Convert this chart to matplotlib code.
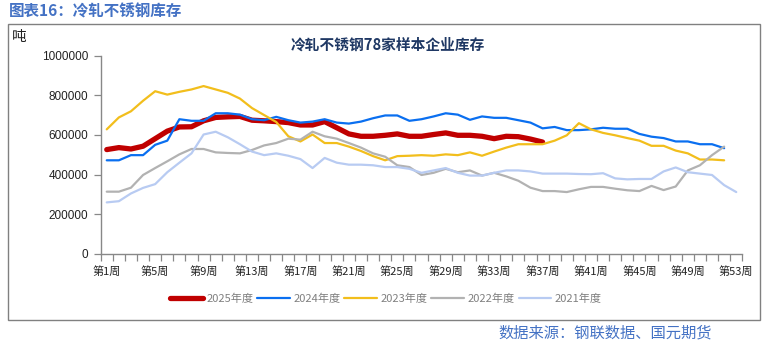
import matplotlib
matplotlib.use("Agg")
import matplotlib.pyplot as plt
from matplotlib.patches import Rectangle
from matplotlib.lines import Line2D

plt.rcParams['font.family'] = ['Noto Sans CJK SC', 'DejaVu Sans']

weeks_labels = [f"第{w}周" for w in range(1, 54, 4)]

s2025 = [526, 536, 529, 543, 581, 619, 640, 641, 671, 688, 691, 693, 674, 671, 667, 662, 650, 650, 667, 636,
         605, 593, 593, 598, 605, 593, 593, 602, 610, 598, 598, 593, 581, 593, 591, 579, 564]
s2024 = [472, 472, 498, 498, 550, 571, 679, 671, 671, 709, 709, 702, 679, 674, 691, 674, 662, 667, 679, 662,
         657, 667, 684, 698, 698, 671, 679, 693, 709, 702, 676, 693, 686, 686, 674, 662, 633, 640, 624, 624,
         628, 636, 631, 631, 605, 591, 584, 567, 567, 553, 553, 533]
s2023 = [628, 688, 719, 772, 820, 803, 817, 829, 846, 829, 812, 783, 735, 700, 665, 593, 567, 602, 559, 559,
         541, 519, 493, 472, 493, 495, 498, 495, 502, 498, 512, 495, 516, 536, 553, 553, 553, 571, 598, 659,
         628, 610, 598, 584, 571, 545, 545, 521, 507, 476, 476, 472]
s2022 = [314, 314, 334, 398, 433, 467, 502, 529, 529, 512, 509, 507, 524, 547, 559, 581, 576, 616, 593, 581,
         559, 536, 507, 490, 447, 438, 398, 409, 429, 412, 421, 395, 409, 391, 369, 334, 317, 317, 312, 326,
         338, 338, 329, 321, 317, 343, 322, 340, 421, 447, 498, 541]
s2021 = [260, 266, 305, 333, 352, 412, 460, 507, 602, 616, 588, 553, 516, 498, 507, 495, 478, 433, 484, 460,
         450, 450, 447, 438, 438, 429, 409, 421, 433, 409, 395, 395, 409, 421, 421, 416, 405, 405, 405, 403,
         402, 407, 381, 376, 378, 378, 416, 436, 412, 405, 398, 347, 312]

series_names = ["2025年度", "2024年度", "2023年度", "2022年度", "2021年度"]
series_vals = [s2025, s2024, s2023, s2022, s2021]
colors = ["#C00000", "#0A6FF0", "#F2BE1C", "#B2B2B2", "#B8CBF2"]
widths = [3.8, 1.6, 1.6, 1.6, 1.6]

W, H = 768, 342
fig = plt.figure(figsize=(W / 100, H / 100), dpi=100)

# outer frame
fig.patches.append(Rectangle((8 / W, 1 - 320 / H), (760 - 8) / W, (320 - 24) / H,
                             transform=fig.transFigure, fill=False, edgecolor="#808080", linewidth=1.0))

ax = fig.add_axes([100.7 / W, 1 - 254 / H, (742.3 - 100.7) / W, (254 - 55.5) / H])

for name, vals, c, lw in zip(series_names, series_vals, colors, widths):
    x = list(range(1, len(vals) + 1))
    y = [v * 1000 for v in vals]
    ax.plot(x, y, color=c, linewidth=lw, solid_capstyle='round', solid_joinstyle='round', label=name)

ax.set_xlim(0.5, 53.5)
ax.set_ylim(0, 1000000)
ax.set_yticks(range(0, 1000001, 200000))
ax.set_yticklabels([str(v) for v in range(0, 1000001, 200000)], fontfamily=['Liberation Sans'],
                   fontsize=8.5, color="#222222")
ax.set_xticks([i + 0.5 for i in range(0, 54)], minor=True)
ax.set_xticks(list(range(1, 54, 4)))
ax.set_xticklabels(weeks_labels, fontsize=8, color="#222222")
ax.tick_params(axis='x', which='major', length=0, pad=9)
ax.tick_params(axis='x', which='minor', length=5, color="#888888", width=0.9)
ax.tick_params(axis='y', length=5, color="#888888", width=0.9, pad=4)
for s in ["top", "right"]:
    ax.spines[s].set_visible(False)
for s in ["left", "bottom"]:
    ax.spines[s].set_color("#888888")
    ax.spines[s].set_linewidth(1.0)
ax.patch.set_alpha(0)

handles = [Line2D([], [], color=c, linewidth=lw, solid_capstyle='round') for c, lw in zip(colors, widths)]
leg = fig.legend(handles, series_names, loc='center', bbox_to_anchor=(386 / W, 1 - 299 / H), ncol=5,
                 frameon=False, fontsize=8, handlelength=2.9, handletextpad=0.35, columnspacing=0.35,
                 labelcolor="#808080")

fig.text(9 / W, 1 - 12 / H, "图表16：冷轧不锈钢库存", fontsize=11.2, fontweight='bold', color="#4472C4",
         ha='left', va='center')
fig.text(388 / W, 1 - 45 / H, "冷轧不锈钢78家样本企业库存", fontsize=10.6, fontweight='bold', color="#1F3864",
         ha='center', va='center')
fig.text(12 / W, 1 - 37 / H, "吨", fontsize=10.5, color="#222222", ha='left', va='center')
fig.text(605 / W, 1 - 333 / H, "数据来源：钢联数据、国元期货", fontsize=11, color="#4472C4",
         ha='center', va='center')

fig.savefig("out.png", dpi=100)
